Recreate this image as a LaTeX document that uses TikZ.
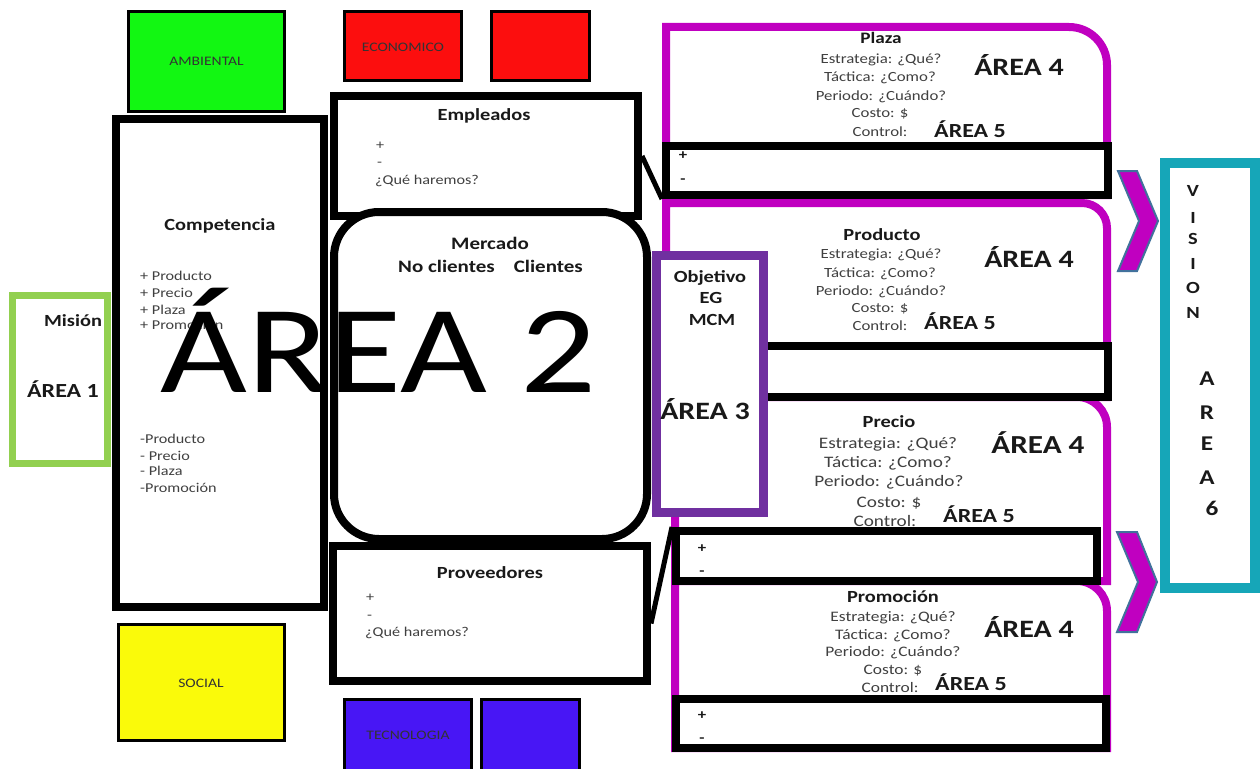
\documentclass[tikz,border=0pt]{standalone}
\usepackage{fontspec}
\setmainfont{Carlito}[FakeStretch=1.2]
\usetikzlibrary{calc}
\definecolor{cgreen}{RGB}{18,247,18}
\definecolor{cred}{RGB}{252,14,14}
\definecolor{cyellow}{RGB}{250,250,10}
\definecolor{cblue}{RGB}{72,22,245}
\definecolor{lgreen}{RGB}{146,208,80}
\definecolor{cpurple}{RGB}{112,48,160}
\definecolor{cmag}{RGB}{192,0,192}
\definecolor{cteal}{RGB}{22,166,184}
\definecolor{csteel}{RGB}{65,113,156}
\newcommand\fz[1]{\fontsize{#1}{#1}\selectfont}
\begin{document}
\begin{tikzpicture}[x=1pt,y=-1pt,
  t/.style={anchor=base,inner sep=0pt,text=black!75},
  tl/.style={anchor=base west,inner sep=0pt,text=black!75},
  b/.style={anchor=base,inner sep=0pt,text=black!90},
  colbox/.style={draw=black,line width=2.5pt},
  blk/.style={draw=black,line width=8pt,fill=white},
  mag/.style={draw=cmag,line width=8pt,fill=white},
  pm/.style={draw=black,line width=8pt,fill=white,inner sep=0pt},
  lnk/.style={draw=black,line width=5pt},
  chev/.style={fill=cmag,draw=csteel,line width=2pt,line join=miter}
]
\useasboundingbox[fill=white] (0,0) rectangle (1260,768);

% coloured boxes
\draw[colbox,fill=cgreen] (128.5,11.5) rectangle (284.5,111.5);
\node[t,font=\fz{13},text=black!80] (amb) at (206.5,66) {AMBIENTAL};
\draw[colbox,fill=cred] (344.5,11.5) rectangle (461.5,80.5);
\node[t,font=\fz{13},text=black!80] (eco) at (403,52) {ECONOMICO};
\draw[colbox,fill=cred] (491.5,11.5) rectangle (589.5,80.5);
\draw[colbox,fill=cyellow] (118.5,624.5) rectangle (284.5,740.5);
\node[t,font=\fz{13},text=black!80] (soc) at (201,687) {SOCIAL};
\draw[colbox,fill=cblue] (344.5,699.5) rectangle (471.5,775);
\node[t,font=\fz{13},text=black!80] (tec) at (408,739) {TECNOLOGIA};
\draw[colbox,fill=cblue] (481.5,699.5) rectangle (579.5,775);

% Mision
\draw[draw=lgreen,line width=7pt,fill=white] (12.5,295.5) rectangle (107.5,463.5);
\node[b,font=\fz{17}\bfseries] (mis) at (73,326) {Misión};
\node[b,font=\fz{20}\bfseries] (a1) at (63,397) {ÁREA 1};

% Competencia
\draw[blk] (116,119) rectangle (324,607);
\node[b,font=\fz{17}\bfseries] (comp) at (220,230) {Competencia};
\node[tl,font=\fz{13.5}] (cp1) at (140,280) {+ Producto};
\node[tl,font=\fz{13.5}] (cp2) at (140,297) {+ Precio};
\node[tl,font=\fz{13.5}] (cp3) at (140,314) {+ Plaza};
\node[tl,font=\fz{13.5}] (cp4) at (140,329) {+ Promoción};
\node[tl,font=\fz{13.5}] (cm1) at (140,443) {-Producto};
\node[tl,font=\fz{13.5}] (cm2) at (140,460) {- Precio};
\node[tl,font=\fz{13.5}] (cm3) at (140,475) {- Plaza};
\node[tl,font=\fz{13.5}] (cm4) at (140,492) {-Promoción};

% Empleados, Mercado, Proveedores
\node[pm,minimum width=304pt,minimum height=120pt] (emp) at (486,156) {};
\node[b,font=\fz{17}\bfseries] (empt) at (484,120) {Empleados};
\node[tl,font=\fz{13.5}] (emp1) at (376,149) {+};
\node[tl,font=\fz{13.5}] (emp2) at (377,166) {-};
\node[tl,font=\fz{13.5}] (emp3) at (375,184) {¿Qué haremos?};
\draw[blk,rounded corners=45pt] (334,212) rectangle (647,539);
\node[b,font=\fz{17.5}\bfseries] (mer) at (490,249) {Mercado};
\node[b,font=\fz{17.5}\bfseries] (cli) at (490.5,272) {No clientes\hspace{19pt}Clientes};
\node[pm,minimum width=314pt,minimum height=135pt] (prov) at (490,613.5) {};
\node[b,font=\fz{17}\bfseries] (provt) at (490,578) {Proveedores};
\node[tl,font=\fz{13.5}] (prov1) at (366,601) {+};
\node[tl,font=\fz{13.5}] (prov2) at (367,619) {-};
\node[tl,font=\fz{13.5}] (prov3) at (365,636) {¿Qué haremos?};

% magenta frames
\draw[mag] (666,195) -- (666,27) -- (1069,27) arc[start angle=-90,end angle=0,radius=38] -- (1107,195) -- cycle;
\draw[mag] (666,397) -- (666,203) -- (1082,203) arc[start angle=-90,end angle=0,radius=25] -- (1107,397) -- cycle;
\draw[mag] (675,581) -- (675,397) -- (1077,397) arc[start angle=-90,end angle=0,radius=30] -- (1107,581) -- cycle;
\draw[mag] (675,748) -- (675,581) -- (1077,581) arc[start angle=-90,end angle=0,radius=30] -- (1107,748) -- cycle;

% frame texts: Plaza
\node[b,font=\fz{16}\bfseries] (plt) at (881,44) {Plaza};
\node[t,font=\fz{14}] (pl1) at (881,63.5) {Estrategia: ¿Qué?};
\node[t,font=\fz{14}] (pl2) at (880,81.5) {Táctica: ¿Como?};
\node[t,font=\fz{14}] (pl3) at (881,100.5) {Periodo: ¿Cuándo?};
\node[t,font=\fz{14}] (pl4) at (880,117.5) {Costo: \$};
\node[t,font=\fz{14}] (pl5) at (880,136) {Control:};
\node[b,font=\fz{25}\bfseries] (pla4) at (1019,75) {ÁREA 4};
\node[b,font=\fz{20}\bfseries] (pla5) at (970,137) {ÁREA 5};
% Producto
\node[b,font=\fz{17}\bfseries] (prt) at (882,240) {Producto};
\node[t,font=\fz{14}] (pr1) at (881,258.5) {Estrategia: ¿Qué?};
\node[t,font=\fz{14}] (pr2) at (880,277.5) {Táctica: ¿Como?};
\node[t,font=\fz{14}] (pr3) at (881,295.5) {Periodo: ¿Cuándo?};
\node[t,font=\fz{14}] (pr4) at (880,312.5) {Costo: \$};
\node[t,font=\fz{14}] (pr5) at (880,330.5) {Control:};
\node[b,font=\fz{25}\bfseries] (pra4) at (1029,267) {ÁREA 4};
\node[b,font=\fz{20}\bfseries] (pra5) at (960,329) {ÁREA 5};
% Precio
\node[b,font=\fz{17}\bfseries] (pet) at (889,427.5) {Precio};
\node[t,font=\fz{16}] (pe1) at (888,448) {Estrategia: ¿Qué?};
\node[t,font=\fz{16}] (pe2) at (888,467) {Táctica: ¿Como?};
\node[t,font=\fz{16}] (pe3) at (889,486) {Periodo: ¿Cuándo?};
\node[t,font=\fz{16}] (pe4) at (889,507) {Costo: \$};
\node[t,font=\fz{16}] (pe5) at (885,526) {Control:};
\node[b,font=\fz{26}\bfseries] (pea4) at (1038,453) {ÁREA 4};
\node[b,font=\fz{20}\bfseries] (pea5) at (979,522) {ÁREA 5};
% Promocion
\node[b,font=\fz{17}\bfseries] (pot) at (893,602.5) {Promoción};
\node[t,font=\fz{14.5}] (po1) at (893,621.5) {Estrategia: ¿Qué?};
\node[t,font=\fz{14.5}] (po2) at (893,639.5) {Táctica: ¿Como?};
\node[t,font=\fz{14.5}] (po3) at (893,656.5) {Periodo: ¿Cuándo?};
\node[t,font=\fz{14.5}] (po4) at (893,674.5) {Costo: \$};
\node[t,font=\fz{14.5}] (po5) at (890,692.5) {Control:};
\node[b,font=\fz{25}\bfseries] (poa4) at (1029,637) {ÁREA 4};
\node[b,font=\fz{20}\bfseries] (poa5) at (971,690) {ÁREA 5};

% +/- boxes
\node[pm,minimum width=442pt,minimum height=49pt] (plazapm) at (887,170.5) {};
\node[b,font=\fz{14}\bfseries] (plp) at (683,159.5) {+};
\node[b,font=\fz{14}\bfseries] (plm) at (683,183) {-};
\node[pm,minimum width=442pt,minimum height=51pt] (propm) at (887,371.5) {};
\node[pm,minimum width=421pt,minimum height=50pt] (prepm) at (886.5,556) {};
\node[b,font=\fz{14}\bfseries] (pep) at (702,552.5) {+};
\node[b,font=\fz{14}\bfseries] (pem) at (702,575) {-};
\node[pm,minimum width=430pt,minimum height=49pt] (promopm) at (891,723.5) {};
\node[b,font=\fz{14}\bfseries] (pop) at (702,719.5) {+};
\node[b,font=\fz{14}\bfseries] (pom) at (702,742) {-};

% Objetivo
\draw[draw=cpurple,line width=9pt,fill=white] (656.5,255.5) rectangle (763.5,512.5);
\node[b,font=\fz{17}\bfseries] (obj) at (710,282) {Objetivo};
\node[b,font=\fz{17}\bfseries] (eg) at (711,303) {EG};
\node[b,font=\fz{17}\bfseries] (mcm) at (712,325) {MCM};
\node[b,font=\fz{25}\bfseries] (a3) at (705,419) {ÁREA 3};

% connectors
\draw[lnk] (emp.east) -- (plazapm.south west);
\draw[lnk] ($(prov.east)+(0,10)$) -- (prepm.north west);

% chevrons
\draw[chev] (1118,171) -- (1137,171) -- (1158,221) -- (1137,271) -- (1118,271) -- (1139,221) -- cycle;
\draw[chev] (1117,532) -- (1137,532) -- (1157,582) -- (1137,632) -- (1117,632) -- (1138,582) -- cycle;

% Vision
\draw[draw=cteal,line width=10pt,fill=white] (1165,163) rectangle (1255,588);
\node[b,font=\fz{17}\bfseries] (v1) at (1193,196) {V};
\node[b,font=\fz{17}\bfseries] (v2) at (1193,223) {I};
\node[b,font=\fz{17}\bfseries] (v3) at (1193,244) {S};
\node[b,font=\fz{17}\bfseries] (v4) at (1193,269) {I};
\node[b,font=\fz{17}\bfseries] (v5) at (1193,293) {O};
\node[b,font=\fz{17}\bfseries] (v6) at (1193,318) {N};
\node[b,font=\fz{21}\bfseries] (w1) at (1207,385) {A};
\node[b,font=\fz{21}\bfseries] (w2) at (1207,419) {R};
\node[b,font=\fz{21}\bfseries] (w3) at (1207,450) {E};
\node[b,font=\fz{21}\bfseries] (w4) at (1207,484) {A};
\node[b,font=\fz{21}\bfseries] (w5) at (1212,515) {6};

% big label
\node[anchor=base,inner sep=0pt,font=\fz{125},text=black] (a2) at (378.5,392) {ÁREA 2};
\end{tikzpicture}
\end{document}
